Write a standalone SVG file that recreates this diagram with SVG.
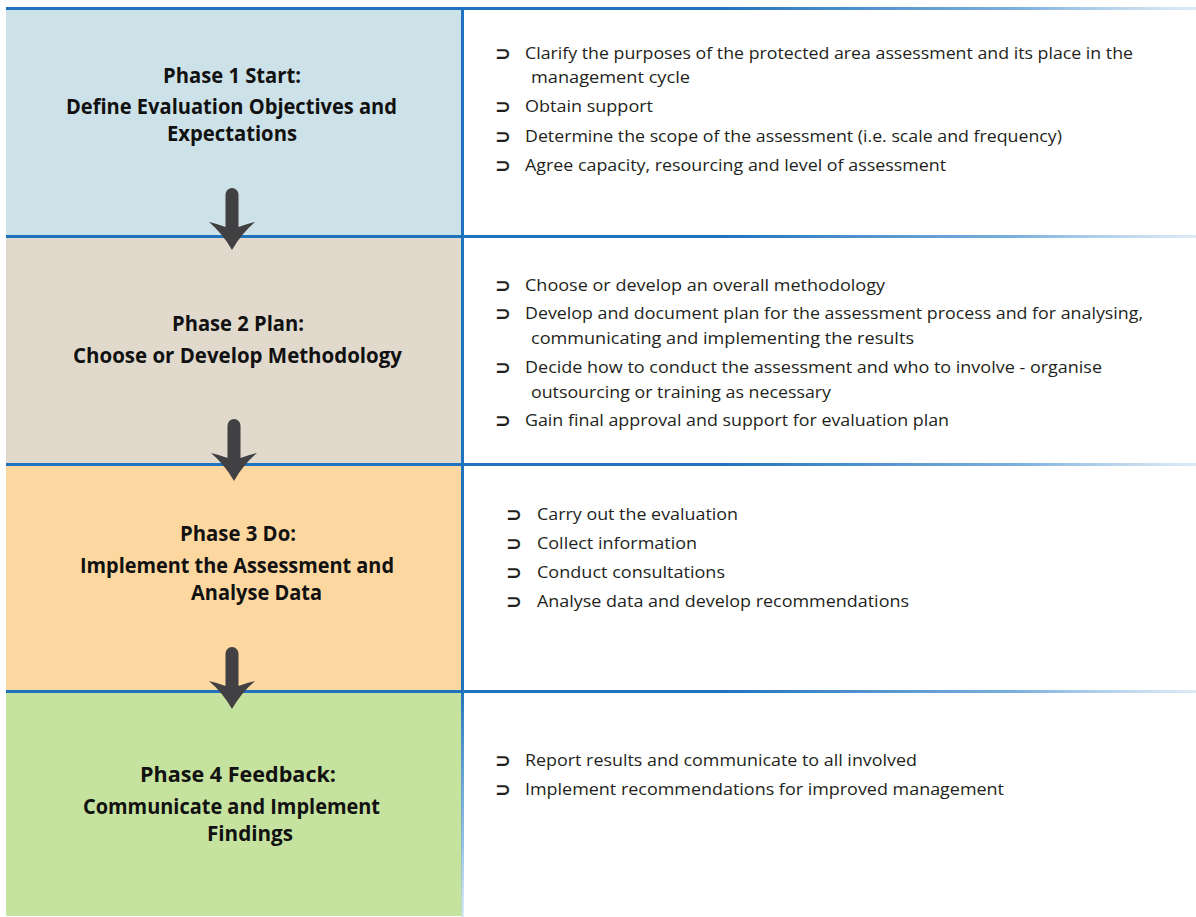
<svg xmlns="http://www.w3.org/2000/svg" width="1196" height="917" viewBox="0 0 1196 917">
<defs>
<linearGradient id="hfade" x1="0" y1="0" x2="1196" y2="0" gradientUnits="userSpaceOnUse">
<stop offset="0" stop-color="#1f72bd"/>
<stop offset="0.6" stop-color="#1f72bd"/>
<stop offset="0.85" stop-color="#5a9bd4" stop-opacity="0.8"/>
<stop offset="1" stop-color="#a8cbea" stop-opacity="0.4"/>
</linearGradient>
<linearGradient id="vfade" x1="0" y1="0" x2="0" y2="917" gradientUnits="userSpaceOnUse">
<stop offset="0" stop-color="#1f72bd"/>
<stop offset="0.75" stop-color="#1f72bd"/>
<stop offset="0.92" stop-color="#6aa6da" stop-opacity="0.7"/>
<stop offset="1" stop-color="#b5d4f0" stop-opacity="0.5"/>
</linearGradient>
<path id="arr" d="M-6.5,6.5 A6.5,6.5 0 0 1 6.5,6.5 L6.5,39 Q14,36 23,34 Q9,46 0,62 Q-9,46 -23,34 Q-14,36 -6.5,39 Z"/>
</defs>
<style>
.h{font-family:"Open Sans","Liberation Sans",sans-serif;font-weight:bold;font-size:21px;fill:#111}
.t{font-family:"Open Sans","Liberation Sans",sans-serif;font-size:17px;fill:#231f20}
.b{font-family:"DejaVu Sans",sans-serif;font-weight:bold;font-size:19px;fill:#231f20}
.arrow{fill:#414042}
</style>
<rect width="1196" height="917" fill="#ffffff"/>

<g id="phase1">
<rect x="6" y="9" width="456" height="227" fill="#cde1e8"/>
<text class="h" x="163" y="83" textLength="138" lengthAdjust="spacingAndGlyphs">Phase 1 Start:</text>
<text class="h" x="66" y="114" textLength="331" lengthAdjust="spacingAndGlyphs">Define Evaluation Objectives and</text>
<text class="h" x="167" y="141" textLength="130" lengthAdjust="spacingAndGlyphs">Expectations</text>
</g>
<g id="phase2">
<rect x="6" y="237" width="456" height="227" fill="#e0d9cc"/>
<text class="h" x="172" y="331" textLength="132" lengthAdjust="spacingAndGlyphs">Phase 2 Plan:</text>
<text class="h" x="73" y="363" textLength="329" lengthAdjust="spacingAndGlyphs">Choose or Develop Methodology</text>
</g>
<g id="phase3">
<rect x="6" y="465" width="456" height="226" fill="#fdd7a0"/>
<text class="h" x="180" y="541" textLength="116" lengthAdjust="spacingAndGlyphs">Phase 3 Do:</text>
<text class="h" x="80" y="573" textLength="314" lengthAdjust="spacingAndGlyphs">Implement the Assessment and</text>
<text class="h" x="191" y="600" textLength="131" lengthAdjust="spacingAndGlyphs">Analyse Data</text>
</g>
<g id="phase4">
<rect x="6" y="692" width="456" height="224" fill="#c6e29f"/>
<text class="h" x="140" y="782" textLength="196" lengthAdjust="spacingAndGlyphs">Phase 4 Feedback:</text>
<text class="h" x="83" y="814" textLength="297" lengthAdjust="spacingAndGlyphs">Communicate and Implement</text>
<text class="h" x="207" y="841" textLength="86" lengthAdjust="spacingAndGlyphs">Findings</text>
</g>

<g id="tasks1">
<text class="b" x="495" y="60">⊃</text>
<text class="t" x="525" y="59" textLength="608" lengthAdjust="spacingAndGlyphs">Clarify the purposes of the protected area assessment and its place in the</text>
<text class="t" x="531" y="83" textLength="159" lengthAdjust="spacingAndGlyphs">management cycle</text>
<text class="b" x="495" y="113">⊃</text>
<text class="t" x="525" y="112" textLength="128" lengthAdjust="spacingAndGlyphs">Obtain support</text>
<text class="b" x="495" y="143">⊃</text>
<text class="t" x="525" y="142" textLength="537" lengthAdjust="spacingAndGlyphs">Determine the scope of the assessment (i.e. scale and frequency)</text>
<text class="b" x="495" y="172">⊃</text>
<text class="t" x="525" y="171" textLength="421" lengthAdjust="spacingAndGlyphs">Agree capacity, resourcing and level of assessment</text>
</g>
<g id="tasks2">
<text class="b" x="495" y="292">⊃</text>
<text class="t" x="525" y="291" textLength="360" lengthAdjust="spacingAndGlyphs">Choose or develop an overall methodology</text>
<text class="b" x="495" y="320">⊃</text>
<text class="t" x="525" y="319" textLength="618" lengthAdjust="spacingAndGlyphs">Develop and document plan for the assessment process and for analysing,</text>
<text class="t" x="531" y="344" textLength="383" lengthAdjust="spacingAndGlyphs">communicating and implementing the results</text>
<text class="b" x="495" y="374">⊃</text>
<text class="t" x="525" y="373" textLength="577" lengthAdjust="spacingAndGlyphs">Decide how to conduct the assessment and who to involve - organise</text>
<text class="t" x="531" y="398" textLength="300" lengthAdjust="spacingAndGlyphs">outsourcing or training as necessary</text>
<text class="b" x="495" y="427">⊃</text>
<text class="t" x="525" y="426" textLength="424" lengthAdjust="spacingAndGlyphs">Gain final approval and support for evaluation plan</text>
</g>
<g id="tasks3">
<text class="b" x="506" y="521">⊃</text>
<text class="t" x="537" y="520" textLength="201" lengthAdjust="spacingAndGlyphs">Carry out the evaluation</text>
<text class="b" x="506" y="550">⊃</text>
<text class="t" x="537" y="549" textLength="160" lengthAdjust="spacingAndGlyphs">Collect information</text>
<text class="b" x="506" y="579">⊃</text>
<text class="t" x="537" y="578" textLength="188" lengthAdjust="spacingAndGlyphs">Conduct consultations</text>
<text class="b" x="506" y="608">⊃</text>
<text class="t" x="537" y="607" textLength="372" lengthAdjust="spacingAndGlyphs">Analyse data and develop recommendations</text>
</g>
<g id="tasks4">
<text class="b" x="495" y="767">⊃</text>
<text class="t" x="525" y="766" textLength="392" lengthAdjust="spacingAndGlyphs">Report results and communicate to all involved</text>
<text class="b" x="495" y="796">⊃</text>
<text class="t" x="525" y="795" textLength="479" lengthAdjust="spacingAndGlyphs">Implement recommendations for improved management</text>
</g>

<g id="lines">
<rect x="6" y="7" width="1190" height="3" fill="url(#hfade)"/>
<rect x="6" y="235" width="1190" height="3" fill="url(#hfade)"/>
<rect x="6" y="463" width="1190" height="3" fill="url(#hfade)"/>
<rect x="6" y="690" width="1190" height="3" fill="url(#hfade)"/>
<rect x="461" y="8" width="3" height="909" fill="url(#vfade)"/>
</g>

<g id="connectors">
<use href="#arr" class="arrow" transform="translate(232,188)"/>
<use href="#arr" class="arrow" transform="translate(234,419)"/>
<use href="#arr" class="arrow" transform="translate(232,647)"/>
</g>
</svg>
